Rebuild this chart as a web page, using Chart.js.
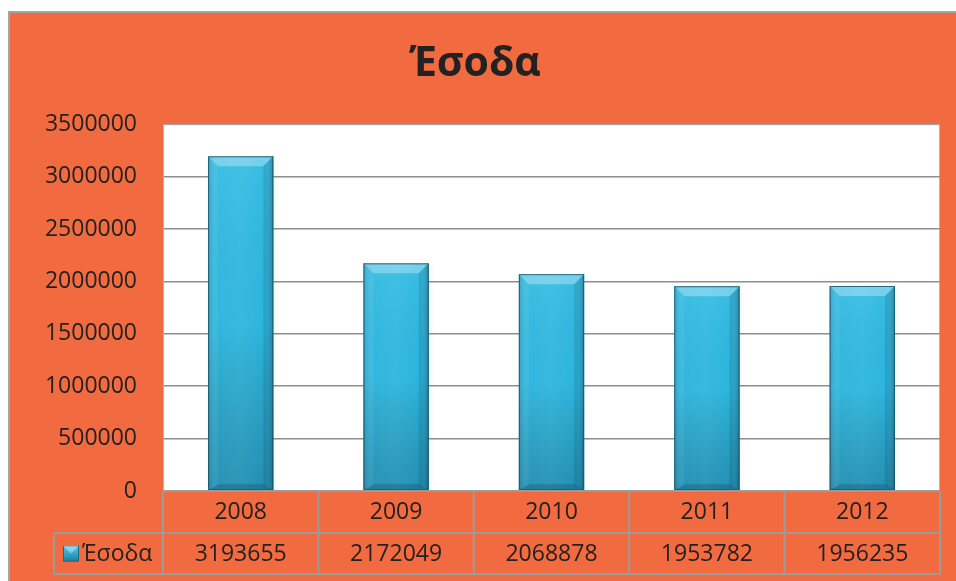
<!DOCTYPE html>
<html>
<head>
<meta charset="utf-8">
<script src="https://cdn.jsdelivr.net/npm/chart.js@4"></script>
<style>
  html, body { margin: 0; padding: 0; background: #ffffff; }
  #wrap { width: 956px; height: 581px; position: relative; }
</style>
</head>
<body>
<div id="wrap"><canvas id="c" width="956" height="581"></canvas></div>
<script>
// ---- Data ----
const chartTitle = 'Έσοδα';
const categories = ['2008', '2009', '2010', '2011', '2012'];
const seriesName = 'Έσοδα';
const revenues = [3193655, 2172049, 2068878, 1953782, 1956235];
const yMin = 0;
const yMax = 3500000;
const yStep = 500000;

// ---- Styles ----
const ORANGE = '#f26a40';
const FRAME = '#a3a3a3';
const GRID = '#8e8e8e';
const TABLE_LINE = '#9b9b9b';
const TEXT = '#222222';
const FONT = "'Open Sans', 'DejaVu Sans', sans-serif";

const backgroundPlugin = {
  id: 'bg',
  beforeDraw(chart) {
    const ctx = chart.ctx;
    const a = chart.chartArea;
    ctx.save();
    ctx.fillStyle = '#ffffff';
    ctx.fillRect(0, 0, chart.width, chart.height);
    ctx.fillStyle = FRAME;
    ctx.fillRect(8, 11, chart.width - 8, chart.height - 11);
    ctx.fillStyle = ORANGE;
    ctx.fillRect(10, 13, chart.width - 10, chart.height - 13);
    ctx.fillStyle = '#ffffff';
    ctx.fillRect(a.left, a.top, a.right - a.left, a.bottom - a.top);
    ctx.strokeStyle = '#b5b5b5';
    ctx.lineWidth = 1;
    ctx.strokeRect(a.left + 0.5, a.top + 0.5, a.right - a.left - 1, a.bottom - a.top);
    ctx.restore();
  }
};

const barStylePlugin = {
  id: 'barStyle',
  beforeDatasetsDraw(chart) {
    const ctx = chart.ctx;
    ctx.save();
    ctx.shadowColor = 'rgba(0,0,0,0.25)';
    ctx.shadowBlur = 6;
    ctx.shadowOffsetX = 2;
    ctx.shadowOffsetY = 1;
    const meta = chart.getDatasetMeta(0);
    meta.data.forEach(bar => {
      const p = bar.getProps(['x', 'y', 'base', 'width'], true);
      ctx.fillStyle = 'rgba(0,0,0,0.15)';
      ctx.fillRect(p.x - p.width / 2, p.y, p.width, p.base - p.y);
    });
    ctx.restore();
  },
  afterDatasetsDraw(chart) {
    const ctx = chart.ctx;
    const meta = chart.getDatasetMeta(0);
    ctx.save();
    meta.data.forEach(bar => {
      const p = bar.getProps(['x', 'y', 'base', 'width'], true);
      const l = p.x - p.width / 2, r = p.x + p.width / 2, t = p.y, b = p.base;
      const g = ctx.createLinearGradient(0, t, 0, b);
      g.addColorStop(0, 'rgba(255,255,255,0.06)');
      g.addColorStop(0.5, 'rgba(0,0,0,0.02)');
      g.addColorStop(1, 'rgba(0,30,50,0.28)');
      ctx.fillStyle = g;
      ctx.fillRect(l, t, r - l, b - t);
      const h = ctx.createLinearGradient(l, 0, r, 0);
      h.addColorStop(0, 'rgba(0,40,60,0.18)');
      h.addColorStop(0.12, 'rgba(255,255,255,0.05)');
      h.addColorStop(0.5, 'rgba(255,255,255,0.08)');
      h.addColorStop(0.88, 'rgba(255,255,255,0.02)');
      h.addColorStop(1, 'rgba(0,40,60,0.25)');
      ctx.fillStyle = h;
      ctx.fillRect(l, t, r - l, b - t);
      const bv = 10;
      ctx.beginPath();
      ctx.moveTo(l, t); ctx.lineTo(r, t); ctx.lineTo(r - bv, t + bv); ctx.lineTo(l + bv, t + bv); ctx.closePath();
      ctx.fillStyle = 'rgba(255,255,255,0.3)';
      ctx.fill();
      ctx.beginPath();
      ctx.moveTo(l, t); ctx.lineTo(l + bv, t + bv); ctx.lineTo(l + bv, b - 4); ctx.lineTo(l, b); ctx.closePath();
      ctx.fillStyle = 'rgba(255,255,255,0.06)';
      ctx.fill();
      ctx.beginPath();
      ctx.moveTo(r, t); ctx.lineTo(r - bv, t + bv); ctx.lineTo(r - bv, b - 4); ctx.lineTo(r, b); ctx.closePath();
      ctx.fillStyle = 'rgba(0,30,50,0.12)';
      ctx.fill();
      ctx.beginPath();
      ctx.moveTo(l, b); ctx.lineTo(r, b); ctx.lineTo(r - bv, b - 6); ctx.lineTo(l + bv, b - 6); ctx.closePath();
      ctx.fillStyle = 'rgba(0,30,50,0.18)';
      ctx.fill();
      ctx.strokeStyle = 'rgba(20,80,100,0.8)';
      ctx.lineWidth = 1;
      ctx.strokeRect(l + 0.5, t + 0.5, r - l - 1, b - t - 1);
    });
    ctx.restore();
  }
};

const tablePlugin = {
  id: 'dataTable',
  afterDraw(chart) {
    const ctx = chart.ctx;
    const a = chart.chartArea;
    const xs = chart.scales.x;
    const n = categories.length;
    const colW = (a.right - a.left) / n;
    const row1Top = a.bottom;
    const row2Top = a.bottom + 42;
    const row2Bot = a.bottom + 83;
    const legendLeft = 54;
    ctx.save();
    ctx.strokeStyle = TABLE_LINE;
    ctx.lineWidth = 2;
    ctx.beginPath();
    ctx.moveTo(a.left, row1Top); ctx.lineTo(a.right, row1Top);
    ctx.moveTo(legendLeft, row2Top); ctx.lineTo(a.right, row2Top);
    ctx.moveTo(legendLeft, row2Bot); ctx.lineTo(a.right, row2Bot);
    for (let i = 0; i <= n; i++) {
      const x = a.left + i * colW;
      ctx.moveTo(x, row1Top); ctx.lineTo(x, row2Bot);
    }
    ctx.moveTo(legendLeft, row2Top); ctx.lineTo(legendLeft, row2Bot);
    ctx.stroke();

    ctx.fillStyle = TEXT;
    ctx.font = '23px ' + FONT;
    ctx.textAlign = 'center';
    ctx.textBaseline = 'middle';
    const ds = chart.data.datasets[0];
    ds.data.forEach((v, i) => {
      ctx.fillText(String(v), xs.getPixelForValue(i), (row2Top + row2Bot) / 2 + 1);
    });

    const ky = (row2Top + row2Bot) / 2;
    const kx = 63;
    const kg = ctx.createLinearGradient(0, ky - 8, 0, ky + 8);
    kg.addColorStop(0, '#4fd0f2');
    kg.addColorStop(1, '#1a7f9c');
    ctx.fillStyle = kg;
    ctx.fillRect(kx, ky - 8, 16, 16);
    ctx.strokeStyle = '#176b84';
    ctx.lineWidth = 1;
    ctx.strokeRect(kx + 0.5, ky - 7.5, 15, 15);
    ctx.beginPath();
    ctx.moveTo(kx, ky - 8); ctx.lineTo(kx + 16, ky - 8); ctx.lineTo(kx + 8, ky); ctx.closePath();
    ctx.fillStyle = 'rgba(255,255,255,0.35)';
    ctx.fill();
    ctx.fillStyle = TEXT;
    ctx.textAlign = 'left';
    ctx.fillText(ds.label, kx + 19, ky + 1);
    ctx.restore();
  }
};

new Chart(document.getElementById('c'), {
  type: 'bar',
  data: {
    labels: categories,
    datasets: [{
      label: seriesName,
      data: revenues,
      backgroundColor: '#28b7e1',
      borderWidth: 0,
      barPercentage: 0.42,
      categoryPercentage: 1.0
    }]
  },
  options: {
    responsive: false,
    animation: false,
    devicePixelRatio: 1,
    layout: { padding: { left: 10, top: 13, right: 16, bottom: 0 } },
    plugins: {
      legend: { display: false },
      tooltip: { enabled: false },
      title: {
        display: true,
        text: chartTitle,
        color: TEXT,
        font: { family: FONT, size: 41, weight: 'bold', lineHeight: 1.2 },
        padding: { top: 27, bottom: 35 }
      }
    },
    scales: {
      x: {
        grid: { display: false, drawTicks: false },
        border: { display: false },
        ticks: {
          color: TEXT,
          font: { family: FONT, size: 23 },
          padding: 8
        },
        afterFit(scale) { scale.height = 90; }
      },
      y: {
        min: yMin,
        max: yMax,
        grid: { color: GRID, lineWidth: 1.5, drawTicks: false },
        border: { display: true, color: '#b5b5b5' },
        ticks: {
          stepSize: yStep,
          color: TEXT,
          font: { family: FONT, size: 23 },
          padding: 26,
          callback: v => String(v)
        },
        afterFit(scale) { scale.width = 153; }
      }
    }
  },
  plugins: [backgroundPlugin, barStylePlugin, tablePlugin]
});
</script>
</body>
</html>
